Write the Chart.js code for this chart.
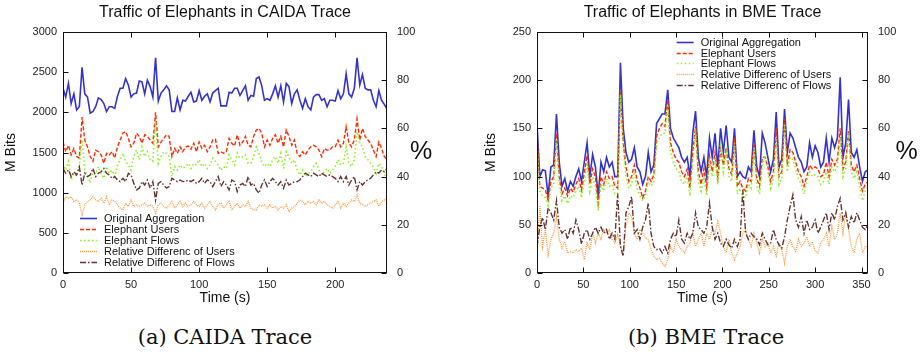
<!DOCTYPE html>
<html>
<head>
<meta charset="utf-8">
<script src="https://cdn.jsdelivr.net/npm/chart.js@4.4.1/dist/chart.umd.min.js"></script>
<style>
body { margin: 0; background: #fff; width: 922px; height: 353px; position: relative; overflow: hidden; }
canvas { position: absolute; top: 0; }
.cap { position: absolute; top: 323px; width: 300px; text-align: center; font-family: "DejaVu Serif", "Liberation Serif", serif; font-size: 21px; line-height: 28px; color: #111; }
</style>
</head>
<body>
<canvas id="caida" width="461" height="308" style="left:0"></canvas>
<canvas id="bme" width="461" height="308" style="left:461px"></canvas>
<div class="cap" style="left:75px">(a) CAIDA Trace</div>
<div class="cap" style="left:556px">(b) BME Trace</div>
<script>
const seriesNames = ['Original Aggregation', 'Elephant Users', 'Elephant Flows', 'Relative Differenc of Users', 'Relative Differenc of Flows'];

// CAIDA trace, one sample every 2 s
const caidaTime = Array.from({length: 120}, (_, i) => i * 2);
const caidaOrig = [2300,2190,2360,2110,2230,2030,2070,2560,2230,2190, 1990,2010,2070,2180,2160,2110,2010,2070,2070,2050,
  2200,2300,2300,2420,2340,2190,2230,2240,2390,2380, 2230,2400,2320,2190,2680,2140,2240,2280,2330,2280,
  2010,2010,2180,2030,2150,2140,2200,2250,2130,2140, 2270,2150,2200,2230,2130,2240,2270,2300,2080,2080,
  2080,2250,2240,2300,2300,2210,2270,2330,2150,2210, 2200,2420,2440,2330,2150,2170,2150,2230,2330,2190,
  2330,2130,2360,2320,2110,2230,2280,2150,2050,2170, 2070,2030,2190,2220,2220,2150,2170,2070,2150,2150,
  2140,2270,2170,2230,2480,2230,2190,2300,2680,2340, 2470,2300,2280,2280,2150,2070,2270,2150,2100,2040];
const caidaUsers = [1630,1510,1590,1470,1550,1450,1430,1940,1655,1570, 1450,1390,1530,1510,1470,1365,1490,1470,1510,1430,
  1570,1655,1740,1760,1675,1570,1615,1740,1700,1615, 1720,1700,1655,1615,2000,1570,1630,1675,1720,1700,
  1450,1550,1490,1570,1510,1570,1580,1540,1615,1510, 1630,1550,1590,1510,1570,1655,1665,1490,1510,1490,
  1510,1675,1615,1580,1720,1590,1630,1700,1590,1570, 1700,1780,1800,1740,1570,1655,1590,1675,1720,1615,
  1700,1570,1780,1700,1590,1655,1490,1450,1510,1470, 1530,1570,1590,1570,1530,1450,1550,1530,1530,1570,
  1570,1655,1570,1615,1820,1615,1570,1655,1920,1655, 1800,1700,1655,1615,1530,1450,1630,1550,1450,1410];
const caidaFlows = [1365,1280,1390,1160,1240,1200,1325,1655,1280,1200, 1120,1260,1240,1325,1240,1180,1325,1240,1280,1200,
  1345,1410,1490,1390,1345,1280,1450,1530,1410,1570, 1450,1510,1410,1390,1880,1365,1450,1510,1490,1450,
  1200,1325,1280,1345,1300,1325,1365,1300,1365,1345, 1410,1325,1365,1300,1345,1430,1390,1345,1280,1325,
  1300,1470,1410,1345,1490,1430,1450,1470,1365,1365, 1450,1570,1490,1390,1325,1365,1325,1410,1450,1365,
  1490,1300,1510,1450,1365,1410,1280,1220,1280,1200, 1240,1260,1325,1365,1280,1220,1260,1300,1240,1280,
  1325,1410,1345,1365,1570,1365,1325,1410,1760,1615, 1570,1450,1410,1365,1325,1240,1365,1325,1240,1160];
const caidaRelUsers = [29,31.7,31,31.7,29.7,30.3,29,24.1,28.3,29.7, 30.3,31.7,30.3,29.7,31,29,31.7,28.3,30.3,29.7,
  28.3,26.9,26.2,29,27.6,30.3,27.6,28.3,27.6,28.3, 29,27.6,28.3,27.6,24.8,28.3,29,27.6,26.9,28.3,
  29.7,26.9,28.3,29.7,27.6,29,27.6,28.3,29.7,28.3, 27.6,29,26.9,28.3,29.7,27.6,26.2,28.3,29,26.9,
  28.3,29.7,26.2,27.6,29,26.9,28.3,27.6,29.7,26.9, 26.2,26.2,28.3,27.6,28.3,26.9,28.3,26.9,27.6,26.2,
  27.6,26.9,28.3,25.5,26.9,27.6,29,30.3,29.7,28.3, 29.7,29,29.7,28.3,30.3,29,29.7,28.3,27.6,26.9,
  28.3,29.7,26.9,29,27.6,29,30.3,29.7,32.4,29, 28.3,27.6,28.3,29,29.7,30.3,27.6,29.7,30.3,31];
const caidaRelFlows = [43.4,41.4,42.8,40,42,40.7,44,36.5,41.4,40, 40.7,43.4,40,41.4,42,43.4,41.4,40.7,39.3,40,
  38.6,37.9,39.3,37.9,41.4,40.7,37.2,34.5,35.2,37.9, 36.5,38.6,35.2,37.9,30.3,37.2,37.9,36.5,35.2,35.9,
  39.3,38.6,37.9,38.6,37.9,37.9,38.6,37.9,38.6,37.2, 37.9,39.3,37.2,38.6,37.9,35.9,37.9,40,35.9,37.9,
  36.5,34.5,38.6,37.9,33.8,36.5,37.2,35.9,40,36.5, 37.2,34.5,33.1,36.5,38.6,35.9,37.9,39.3,37.9,36.5,
  37.9,35.2,38.6,36.5,37.2,37.9,37.9,38.6,40,41.4, 40.7,40,41.4,40.7,40,41.4,40.7,40,40.7,40,
  39.3,37.9,40,37.9,40,36.5,38.6,40,34.5,37.9, 36.5,37.9,38.6,39.3,40.7,42,41.4,42.8,42,43.4];

// BME trace, one sample every 3 s
const bmeTime = Array.from({length: 120}, (_, i) => i * 3);
const bmeOrig = [155,100,107,106,80,110,112,165,115,90, 98,85,95,90,100,108,95,115,135,100,
  123,110,80,115,105,120,110,115,100,100, 218,150,125,115,118,130,110,105,92,100,
  125,105,112,155,160,165,165,190,150,140, 135,130,120,115,120,100,145,168,120,105,
  120,100,140,120,145,110,150,125,153,120, 115,150,100,105,100,98,110,105,148,110,
  100,145,135,120,105,118,167,110,118,170, 125,145,140,130,120,115,105,110,135,120,
  132,125,110,115,140,115,140,130,140,203, 120,135,180,125,120,128,110,95,105,107];
const bmeUsers = [145,90,88,86,76,95,100,145,100,82, 88,80,88,84,92,98,86,104,122,92,
  108,100,72,100,92,105,98,100,90,88, 188,135,110,95,100,112,96,88,78,85,
  100,95,102,142,150,155,152,180,135,125, 118,115,105,100,108,88,125,152,105,92,
  108,88,122,105,125,98,128,112,130,108, 102,140,90,95,88,85,98,95,135,98,
  90,120,120,110,95,105,150,100,105,160, 112,128,125,115,105,100,90,100,112,108,
  110,108,100,102,115,100,118,112,118,150, 108,115,148,112,105,112,98,85,92,95];
const bmeFlows = [135,85,80,78,70,88,92,138,92,75, 80,72,80,78,85,90,78,96,115,85,
  100,90,65,92,85,98,90,92,82,82, 185,130,100,88,92,105,88,80,75,80,
  95,90,95,135,140,145,145,175,125,115, 108,105,95,92,100,80,115,150,95,85,
  100,80,115,100,120,92,135,105,125,100, 95,135,82,88,80,78,92,88,130,90,
  82,112,122,105,88,98,140,92,98,155, 105,120,118,108,98,92,82,95,105,100,
  102,100,92,95,105,92,110,105,110,140, 100,108,145,105,98,105,90,75,85,88];
const bmeRelUsers = [8.3,28,11,18,7.6,14,16.5,23.4,14,10.3, 13,8.3,9,8.3,9.7,9,10.3,5.5,12.4,9.7,
  16.5,12.4,16.5,14,18,16.5,18,14,12.4,16, 11,8.3,19.3,24.8,23.4,16.5,14,18,16.5,14.5,
  14,9.7,7,5.5,6.2,4.1,2.8,5.5,11,8.3, 14,11,9.7,8.3,11,12.4,16.5,11,14,16.5,
  11,16.5,14,18,16.5,21.4,16.5,11,8.3,14, 8.3,5.5,8.3,11,16.5,18,14,11,16.5,12.4,
  8.3,14,11,12.4,8.3,11,7,12.4,9.7,4.1, 11,14,11,9,14,11,12.4,15,11,13,
  9,8.3,12.4,14,16.5,11,19.3,14,16.5,24.8, 16.5,24.8,18,11,8.3,14,16.5,8.3,11,11];
const bmeRelFlows = [11,19,23,18,27,25,22,30,19,16.5, 18,14,19,16.5,22,18,12,16.5,18,14,
  16.5,19,16.5,19,16.5,18,14,16.5,14,33, 11,7,25,27.5,31.7,16.5,18,14,19,22,
  29,16.5,11,9.7,10.3,8.3,11,8.3,14,16.5, 15,22,14,12.4,16.5,14,16.5,25,19,18,
  16.5,19,29,19,14,16.5,12.4,11,14,11.7, 10.3,14,11,14,34.5,16.5,14,16.5,15,14,
  11.7,16.5,14,11.7,12.4,18,14,11.7,10.3,15, 22,27.6,32.4,22,19,23.4,16.5,22,18,19,
  22,16.5,19,22,25,18,25,22,27.6,31, 22,25,19,23.4,20.7,25,22,19,18,20];

const styles = [
  {color: '#3333cc', dash: [], width: 1.6, axis: 'y'},
  {color: '#ff2a00', dash: [4, 2], width: 1.4, axis: 'y'},
  {color: '#8cf020', dash: [1.5, 2.5], width: 1.6, axis: 'y'},
  {color: '#ff9a40', dash: [1, 1], width: 1.3, axis: 'y2'},
  {color: '#663333', dash: [6, 2, 1.5, 2], width: 1.4, axis: 'y2'}
];

const frame = {
  id: 'frame',
  afterDraw(chart, args, o) {
    const {ctx, chartArea: a, scales} = chart;
    ctx.save();
    ctx.strokeStyle = '#111';
    ctx.lineWidth = 1;
    const L = Math.round(a.left) + 0.5, R = Math.round(a.right) - 0.5;
    const T = Math.round(a.top) + 0.5, B = Math.round(a.bottom) - 0.5;
    ctx.strokeRect(L, T, R - L, B - T);
    ctx.beginPath();
    scales.x.ticks.forEach(t => {
      const p = Math.round(scales.x.getPixelForValue(t.value)) + 0.5;
      ctx.moveTo(p, B); ctx.lineTo(p, B - 5);
      ctx.moveTo(p, T); ctx.lineTo(p, T + 5);
    });
    scales.y.ticks.forEach(t => {
      const p = Math.round(scales.y.getPixelForValue(t.value)) + 0.5;
      ctx.moveTo(L, p); ctx.lineTo(L + 5, p);
    });
    scales.y2.ticks.forEach(t => {
      const p = Math.round(scales.y2.getPixelForValue(t.value)) + 0.5;
      ctx.moveTo(R, p); ctx.lineTo(R - 5, p);
    });
    ctx.stroke();

    ctx.fillStyle = '#111';
    ctx.textAlign = 'center';
    ctx.textBaseline = 'middle';
    ctx.font = '16px "Liberation Sans", Arial, sans-serif';
    ctx.fillText(o.title, (a.left + a.right) / 2, 13);
    ctx.font = '25px "Liberation Sans", Arial, sans-serif';
    ctx.fillText('%', o.pctX, 152);

    // key inside the plot
    ctx.font = '11px "Liberation Sans", Arial, sans-serif';
    ctx.textAlign = 'left';
    chart.data.datasets.forEach((d, i) => {
      const y = Math.round(o.legY + i * 10.8) + 0.5;
      ctx.strokeStyle = d.borderColor;
      ctx.lineWidth = d.borderWidth;
      ctx.setLineDash(d.borderDash);
      ctx.beginPath();
      ctx.moveTo(o.legX, y);
      ctx.lineTo(o.legX + 17, y);
      ctx.stroke();
      ctx.setLineDash([]);
      ctx.fillText(d.label, o.legX + 24, y);
    });
    ctx.restore();
  }
};

function drawChart(id, time, series, o) {
  const datasets = series.map((vals, i) => ({
    label: seriesNames[i],
    data: vals.map((v, j) => ({x: time[j], y: v})),
    borderColor: styles[i].color,
    borderDash: styles[i].dash,
    borderWidth: styles[i].width,
    yAxisID: styles[i].axis,
    pointRadius: 0,
    tension: 0,
    fill: false,
    order: 5 - i
  }));
  const tickFont = {family: '"Liberation Sans", Arial, sans-serif', size: 11};
  const plain = v => String(v);
  new Chart(document.getElementById(id), {
    type: 'line',
    data: {datasets: datasets},
    plugins: [frame],
    options: {
      responsive: false,
      animation: false,
      devicePixelRatio: 1,
      layout: {padding: {top: 32, left: 0, right: 0, bottom: 0}},
      plugins: {
        legend: {display: false},
        tooltip: {enabled: false},
        frame: o
      },
      scales: {
        x: {
          type: 'linear', min: 0, max: o.xMax,
          ticks: {stepSize: 50, includeBounds: false, padding: 5, color: '#222', font: tickFont, maxRotation: 0, callback: plain},
          grid: {display: false, drawTicks: false}, border: {display: false},
          title: {display: true, text: 'Time (s)', color: '#111', font: {family: tickFont.family, size: 14}, padding: {top: 0, bottom: 1}},
          afterFit: s => { s.height = 35; }
        },
        y: {
          position: 'left', min: 0, max: o.yMax,
          ticks: {stepSize: o.yStep, padding: 6, color: '#222', font: tickFont, callback: plain},
          grid: {display: false, drawTicks: false}, border: {display: false},
          title: {display: true, text: 'M Bits', color: '#111', font: {family: tickFont.family, size: 14}, padding: {top: o.mbPad, bottom: 0}},
          afterFit: s => { s.width = o.leftW; }
        },
        y2: {
          position: 'right', min: 0, max: 100,
          ticks: {stepSize: 20, padding: 10, color: '#222', font: tickFont, callback: plain},
          grid: {display: false, drawTicks: false}, border: {display: false},
          afterFit: s => { s.width = o.rightW; }
        }
      }
    }
  });
}

drawChart('caida', caidaTime, [caidaOrig, caidaUsers, caidaFlows, caidaRelUsers, caidaRelFlows], {
  title: 'Traffic of Elephants in CAIDA Trace', xMax: 238, yMax: 3000, yStep: 500,
  leftW: 63, rightW: 74, mbPad: 2.6, pctX: 421, legX: 80, legY: 218.3
});
drawChart('bme', bmeTime, [bmeOrig, bmeUsers, bmeFlows, bmeRelUsers, bmeRelFlows], {
  title: 'Traffic of Elephants in BME Trace', xMax: 357, yMax: 250, yStep: 50,
  leftW: 76, rightW: 54, mbPad: 22, pctX: 445.7, legX: 215.7, legY: 41.7
});
</script>
</body>
</html>
